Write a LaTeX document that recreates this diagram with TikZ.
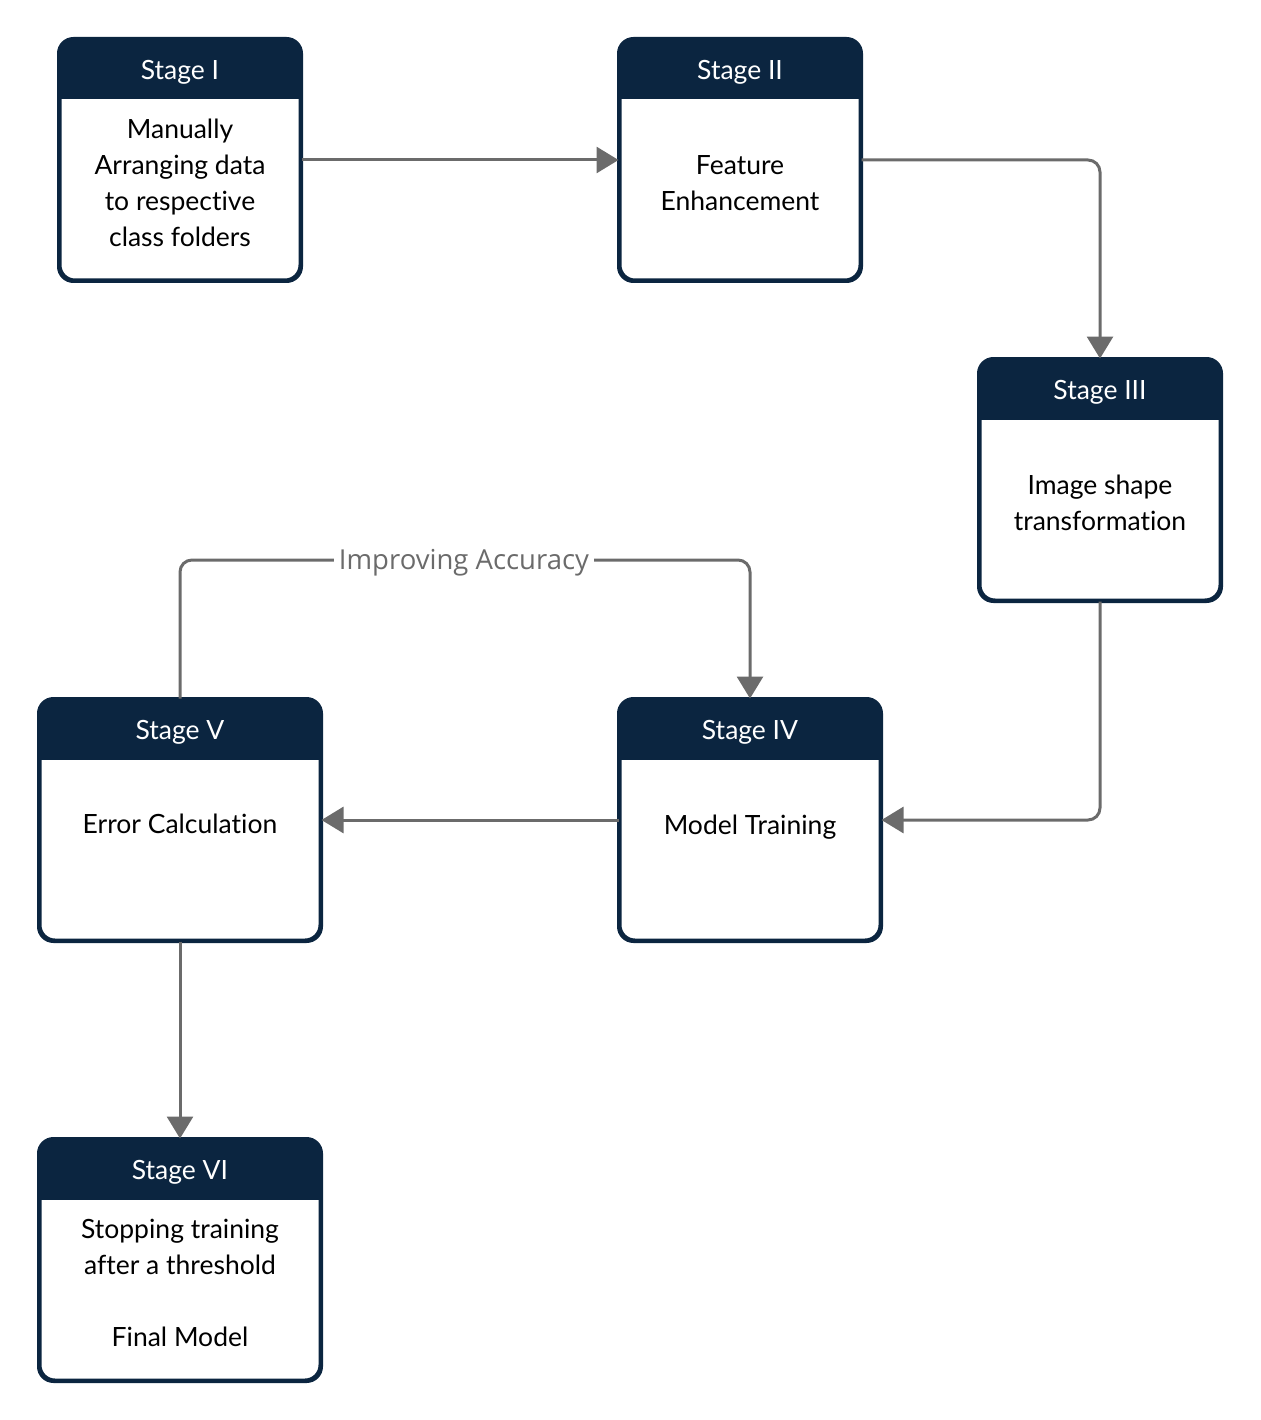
\documentclass[tikz,border=0pt]{standalone}
\usepackage{fontspec}
\setmainfont[Ligatures=NoCommon]{Lato}
\newfontfamily\labelfont{Open Sans}
\usetikzlibrary{arrows.meta}
\definecolor{navy}{HTML}{0B2540}
\definecolor{conngray}{HTML}{6B6B6B}
\tikzset{
  stagebox/.style={draw=navy, line width=3pt, rounded corners=15pt, inner sep=0pt, fill=white},
  headtext/.style={text=white, font=\fontsize{26.5}{36}\selectfont, inner sep=0pt},
  bodytext/.style={text=black, font=\fontsize{26.5}{36}\selectfont, align=center, inner sep=0pt},
  conn/.style={draw=conngray, line width=3pt, rounded corners=12pt, -{Triangle[length=22pt,width=26pt]}},
}
\newcommand{\mystage}[8]{%
  % #1 name, #2 cx, #3 cy, #4 width, #5 header, #6 body y, #7 body text, #8 height
  \node[stagebox, minimum width=#4pt, minimum height=#8pt] (#1) at (#2,#3) {};
  \begin{scope}
    \clip[rounded corners=15pt] (#1.north west) rectangle (#1.south east);
    \fill[navy] (#1.north west) rectangle ([yshift=-61pt]#1.north east);
  \end{scope}
  \draw[navy, line width=3pt, rounded corners=15pt] (#1.north west) rectangle (#1.south east);
  \node[headtext] (#1h) at ([yshift=-34pt]#1.north) {#5};
  \node[bodytext] (#1b) at (#2,#6) {#7};
}
\begin{document}
\begin{tikzpicture}[x=1pt,y=-1pt]
\useasboundingbox (0,0) rectangle (1260,1420);
\mystage{s1}{180}{160}{240}{Stage I}{183}{Manually\\Arranging data\\to respective\\class folders}{240}
\mystage{s2}{740}{160}{240}{Stage II}{183}{Feature\\Enhancement}{240}
\mystage{s3}{1100}{480}{240}{Stage III}{503}{Image shape\\transformation}{240}
\mystage{s4}{750}{820}{260}{Stage IV}{827}{Model Training}{240}
\mystage{s5}{180}{820}{280}{Stage V}{824}{Error Calculation}{240}
\mystage{s6}{180}{1260}{280}{Stage VI}{1283}{Stopping training\\after a threshold\\[36pt]Final Model}{240}
\coordinate (c1) at (180,560);
\draw[conn] (s1.east) -- (s2.west);
\draw[conn] (s2.east) -| (s3.north);
\draw[conn] (s3.south) |- (s4.east);
\draw[conn] (s4.west) -- (s5.east);
\draw[conn] (s5.north) -- (c1) -| (s4.north);
\draw[conn] (s5.south) -- (s6.north);
\node[fill=white, inner xsep=5pt, inner ysep=2pt, text=conngray, font=\labelfont\fontsize{27.5}{30}\selectfont] (lab) at (464,563) {Improving Accuracy};
\end{tikzpicture}
\end{document}
